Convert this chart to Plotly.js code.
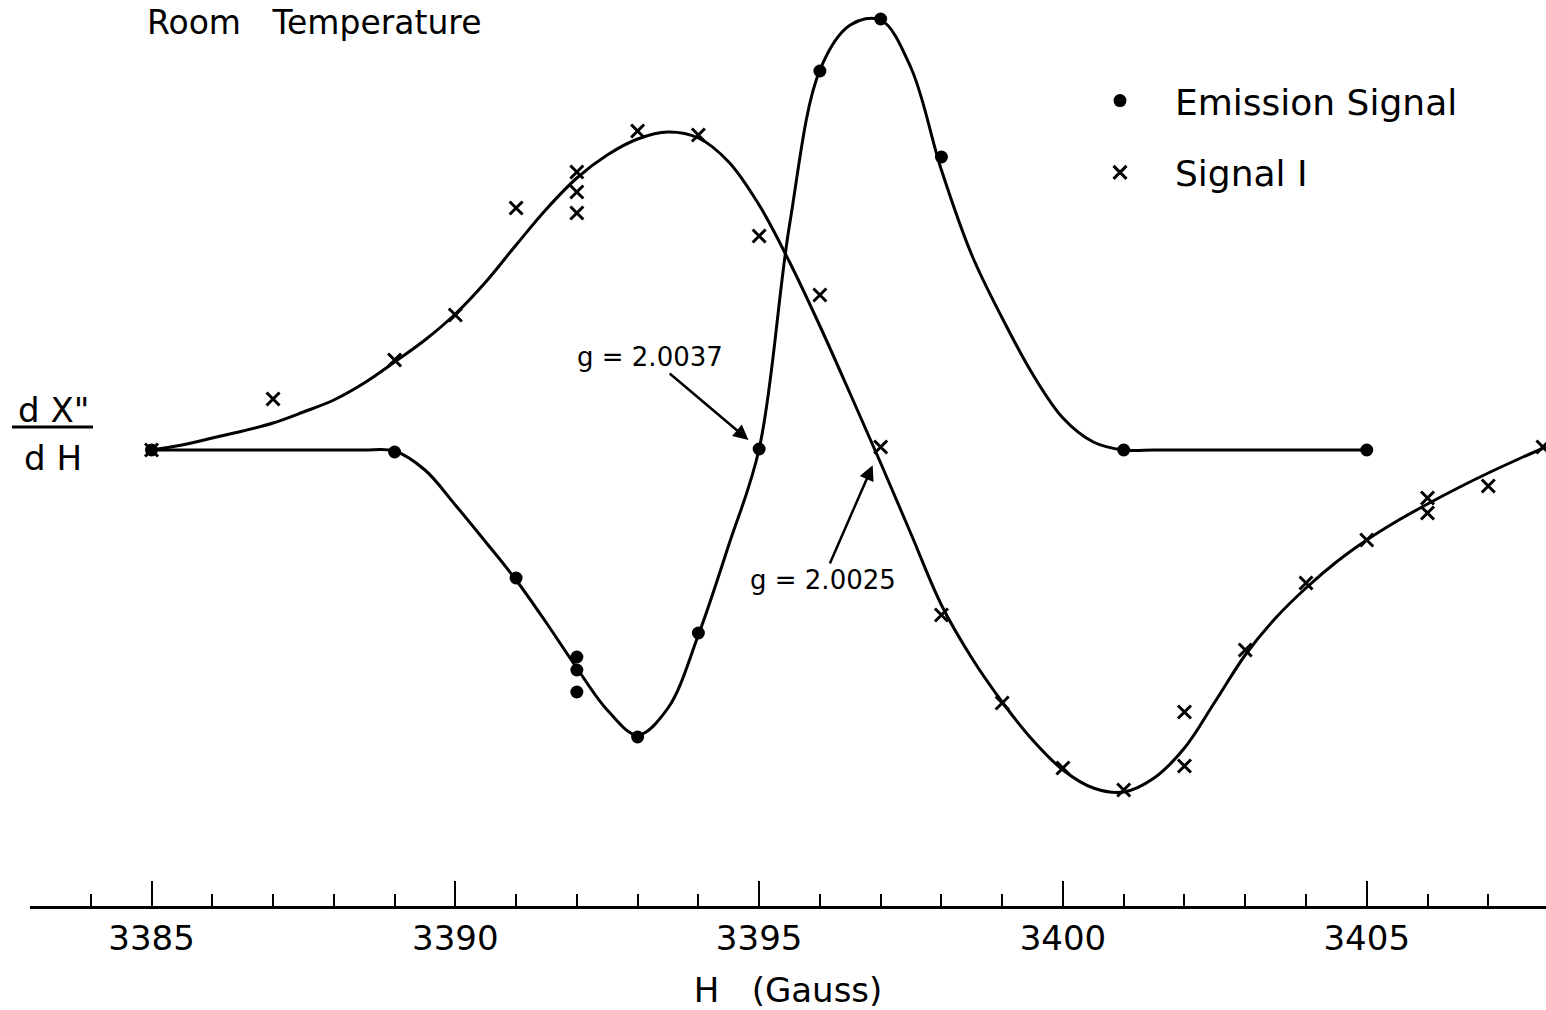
<!DOCTYPE html>
<html>
<head>
<meta charset="utf-8">
<script src="https://cdn.plot.ly/plotly-3.0.1.min.js"></script>
<style>html,body{margin:0;padding:0;background:#fff;}#chart{width:1546px;height:1010px;}</style>
</head>
<body>
<div id="chart"></div>
<script>
// Emission Signal: measured points (H in Gauss, dX''/dH in arbitrary units)
const emX = [3385, 3389, 3391, 3392, 3392, 3392, 3393, 3394, 3395, 3396, 3397, 3398, 3401, 3405];
const emY = [0, -0.02, -1.28, -2.07, -2.20, -2.42, -2.87, -1.83, 0.01, 3.79, 4.31, 2.93, 0, 0];

// Emission Signal: hand-drawn smooth curve
const emCurveX = [3385, 3386, 3387, 3388, 3388.5, 3389, 3389.5, 3390, 3390.5, 3391, 3391.5, 3392, 3392.5, 3393, 3393.5, 3394, 3394.5, 3395, 3395.5, 3396, 3396.5, 3397, 3397.5, 3398, 3398.5, 3399, 3399.5, 3400, 3400.5, 3401, 3401.5, 3402, 3403, 3404, 3405];
const emCurveY = [0, 0, 0, 0, 0, -0.01, -0.20, -0.55, -0.92, -1.30, -1.73, -2.18, -2.60, -2.85, -2.58, -1.85, -0.95, 0.01, 2.25, 3.80, 4.25, 4.30, 3.82, 2.80, 1.95, 1.32, 0.76, 0.32, 0.08, 0, 0, 0, 0, 0, 0];

// Signal I: measured points
const sigX = [3385, 3387, 3389, 3390, 3391, 3392, 3392, 3392, 3393, 3394, 3395, 3396, 3397, 3398, 3399, 3400, 3401, 3402, 3402, 3403, 3404, 3405, 3406, 3406, 3407, 3407.9];
const sigY = [0, 0.51, 0.90, 1.35, 2.42, 2.78, 2.58, 2.37, 3.19, 3.15, 2.14, 1.55, 0.03, -1.65, -2.53, -3.18, -3.40, -2.62, -3.16, -2.00, -1.33, -0.90, -0.48, -0.63, -0.36, 0.03];

// Signal I: hand-drawn smooth curve
const sigCurveX = [3385, 3385.5, 3386, 3386.5, 3387, 3387.5, 3388, 3388.5, 3389, 3389.5, 3390, 3390.5, 3391, 3391.5, 3392, 3392.5, 3393, 3393.5, 3394, 3394.5, 3395, 3395.5, 3396, 3396.5, 3397, 3397.5, 3398, 3398.5, 3399, 3399.5, 3400, 3400.5, 3401, 3401.5, 3402, 3402.5, 3403, 3403.5, 3404, 3404.5, 3405, 3405.5, 3406, 3406.5, 3407, 3407.5, 3407.95];
const sigCurveY = [0, 0.05, 0.12, 0.19, 0.27, 0.38, 0.50, 0.67, 0.88, 1.10, 1.36, 1.68, 2.05, 2.41, 2.72, 2.95, 3.11, 3.18, 3.12, 2.88, 2.45, 1.88, 1.24, 0.56, -0.13, -0.84, -1.55, -2.08, -2.52, -2.90, -3.20, -3.38, -3.42, -3.28, -2.98, -2.52, -2.05, -1.68, -1.38, -1.12, -0.90, -0.71, -0.54, -0.38, -0.23, -0.09, 0.03];

const seriesNames = ['Emission Signal', 'Signal I'];
const gLabels = ['g = 2.0037', 'g = 2.0025'];
const xTitle = 'H\u00a0\u00a0\u00a0(Gauss)';
const chartTitle = 'Room\u00a0\u00a0\u00a0Temperature';

const FONT = 'DejaVu Sans';
const INK = '#000';

const traces = [
  {x: emCurveX, y: emCurveY, mode: 'lines', line: {color: INK, width: 3, shape: 'spline', smoothing: 1}, showlegend: false, hoverinfo: 'skip'},
  {x: sigCurveX, y: sigCurveY, mode: 'lines', line: {color: INK, width: 3, shape: 'spline', smoothing: 1}, showlegend: false, hoverinfo: 'skip'},
  {x: emX, y: emY, name: seriesNames[0], mode: 'markers', legendgroup: 'a', cliponaxis: false,
   marker: {symbol: 'circle', size: 13, color: INK}},
  {x: sigX, y: sigY, name: seriesNames[1], mode: 'markers', legendgroup: 'b', cliponaxis: false,
   marker: {symbol: 'x-thin-open', size: 13, color: INK, line: {color: INK, width: 3}}}
];

const layout = {
  width: 1546, height: 1010,
  paper_bgcolor: '#fff', plot_bgcolor: '#fff',
  margin: {l: 30, r: 0, t: 0, b: 104},
  showlegend: true,
  title: {text: chartTitle, x: 147 / 1546, xanchor: 'left', xref: 'container', y: 1 - 22 / 1010, yanchor: 'middle', yref: 'container',
          font: {family: FONT, size: 33, color: INK}},
  xaxis: {
    range: [3383, 3407.95], showgrid: false, zeroline: false,
    showline: true, linecolor: INK, linewidth: 3,
    ticks: 'inside', ticklen: 25, tickwidth: 2, tickcolor: INK,
    tick0: 3385, dtick: 5,
    minor: {tick0: 3383, dtick: 1, ticks: 'inside', ticklen: 12, tickwidth: 2, tickcolor: INK, showgrid: false},
    tickfont: {family: FONT, size: 34, color: INK},
    ticklabelstandoff: 0,
    title: {text: xTitle, font: {family: FONT, size: 34, color: INK}, standoff: 32}
  },
  yaxis: {range: [-4.56, 4.5], visible: false, showgrid: false, zeroline: false},
  legend: {x: (1065 - 30) / 1516, xanchor: 'left', y: 0.922, yanchor: 'top', font: {family: FONT, size: 36, color: INK},
           itemwidth: 100, tracegroupgap: 22, traceorder: 'grouped', bgcolor: 'rgba(0,0,0,0)'},
  annotations: [
    {x: emX[8], y: emY[8], text: gLabels[0], showarrow: true, ax: -109, ay: -92, standoff: 14,
     arrowhead: 2, arrowsize: 1.2, arrowwidth: 2.5, arrowcolor: INK, font: {family: FONT, size: 26, color: INK}},
    {x: sigX[12], y: sigY[12], text: gLabels[1], showarrow: true, ax: -58, ay: 133, standoff: 20,
     arrowhead: 2, arrowsize: 1.2, arrowwidth: 2.5, arrowcolor: INK, font: {family: FONT, size: 26, color: INK}},
    {xref: 'paper', yref: 'paper', x: (53 - 30) / 1516, y: 1 - 410 / 906, text: 'd\u00a0\u03a7"', showarrow: false,
     xanchor: 'center', yanchor: 'middle', font: {family: FONT, size: 34, color: INK}},
    {xref: 'paper', yref: 'paper', x: (53 - 30) / 1516, y: 1 - 458 / 906, text: 'd\u00a0H', showarrow: false,
     xanchor: 'center', yanchor: 'middle', font: {family: FONT, size: 34, color: INK}}
  ],
  shapes: [
    {type: 'line', xref: 'paper', yref: 'paper', x0: (12 - 30) / 1516, x1: (93 - 30) / 1516, y0: 1 - 427 / 906, y1: 1 - 427 / 906,
     line: {color: INK, width: 3}}
  ]
};

Plotly.newPlot('chart', traces, layout, {displayModeBar: false, staticPlot: true});
</script>
</body>
</html>
